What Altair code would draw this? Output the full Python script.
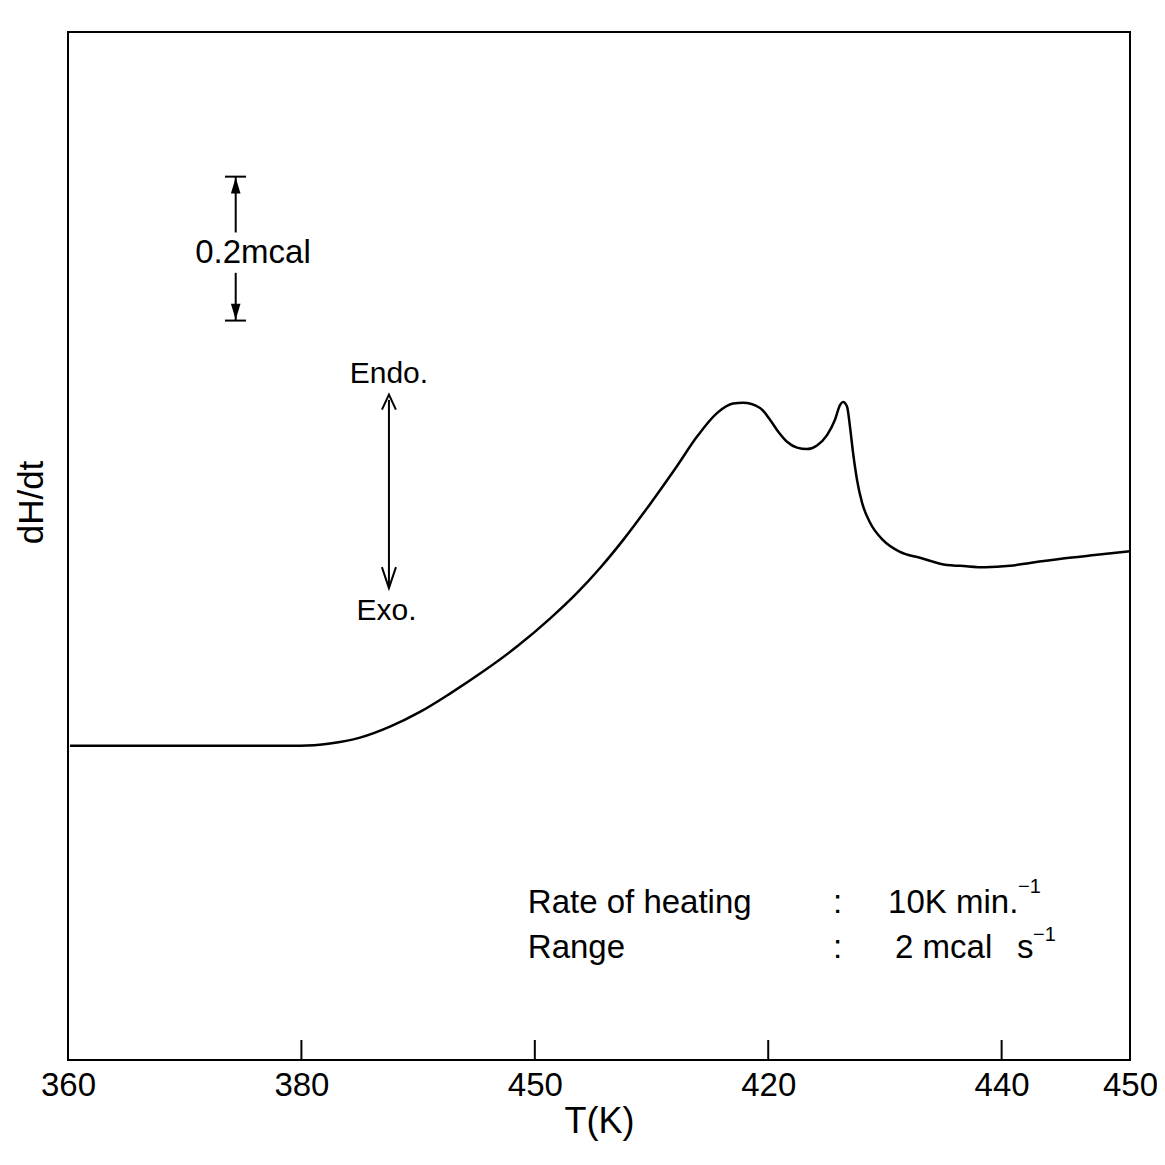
import altair as alt
import pandas as pd

# ---------------- data ----------------
curve_T = [360.17, 371.31, 379.88, 382.45, 385.02, 387.59, 390.16, 392.73, 395.56,
           398.47, 401.30, 403.62, 405.59, 407.56, 409.87, 412.19, 413.90, 415.61,
           416.98, 417.84, 419.30, 420.15, 420.75, 421.61, 422.47, 423.32, 424.18,
           425.04, 425.72, 426.15, 426.41, 426.75, 427.01, 427.27, 427.61, 428.04,
           428.72, 429.84, 431.29, 433.00, 435.32, 436.44, 438.58, 440.72, 442.43,
           445.26, 448.17, 451.00]
curve_y = [0.428, 0.428, 0.428, 0.431, 0.439, 0.454, 0.474, 0.499, 0.529,
           0.563, 0.601, 0.636, 0.670, 0.708, 0.757, 0.809, 0.849, 0.881,
           0.894, 0.895, 0.888, 0.872, 0.858, 0.842, 0.834, 0.832, 0.837,
           0.851, 0.872, 0.892, 0.896, 0.890, 0.862, 0.827, 0.790, 0.759,
           0.732, 0.708, 0.692, 0.684, 0.674, 0.673, 0.671, 0.673, 0.677,
           0.683, 0.688, 0.693]

tick_T = [380, 400, 420, 440]
label_T = [360, 380, 400, 420, 440, 451]
label_text = ["360", "380", "450", "420", "440", "450"]

x_domain = [360, 451]
y_domain = [0, 1.4]

# scale bar (0.2 mcal) and Endo/Exo arrow
bar_T = 374.37
bar_seg_y = [1.127, 1.007]
bar_seg_y2 = [1.203, 1.072]
cap_T = [373.45]
cap_T2 = [375.25]
cap_y = [1.203, 1.007]
bar_head_up_y = 1.191
bar_head_down_y = 1.019

endo_T = 387.5
endo_y = 0.643
endo_y2 = 0.899
endo_head_up_y = 0.896
exo_head_down_y = 0.657

# annotation texts
center_text = ["0.2mcal", "Endo.", "Exo."]
center_T = [375.85, 387.5, 387.3]
center_y = [1.086, 0.922, 0.599]
center_size = [33, 30, 30]

left_text = ["Rate of heating", "Range", ":", ":", "10K min.", "2 mcal", "s"]
left_T = [399.4, 399.4, 425.55, 425.55, 430.27, 430.87, 441.32]
left_y = [0.200, 0.139, 0.200, 0.139, 0.200, 0.139, 0.139]

sup_text = ["\u22121", "\u22121"]
sup_T = [441.40, 442.69]
sup_y = [0.2275, 0.162]

FONT = "Liberation Sans"

# ---------------- chart ----------------
xscale = alt.Scale(domain=x_domain, nice=False, zero=False)
yscale = alt.Scale(domain=y_domain, nice=False, zero=False)

label_expr = " : ".join(
    f"datum.value == {v} ? '{t}'" for v, t in zip(label_T, label_text)
) + " : datum.label"

x_axis = alt.Axis(values=label_T, labelExpr=label_expr, title="T(K)",
                  ticks=False, tickSize=0, domain=False, grid=False,
                  labelFlush=False, labelOverlap=False,
                  labelFont=FONT, labelFontSize=33, labelColor="black",
                  labelPadding=9, titleFont=FONT, titleFontSize=36,
                  titleFontWeight="normal", titleColor="black", titlePadding=2)
y_axis = alt.Axis(title="dH/dt", labels=False, ticks=False, tickSize=0,
                  domain=False, grid=False, titleFont=FONT, titleFontSize=35,
                  titleFontWeight="normal", titleColor="black",
                  titleX=-26, titleY=470, titleBaseline="alphabetic",
                  titleAngle=270, titleAlign="center")

X = alt.X("T:Q", scale=xscale, axis=x_axis, title="T(K)")
Y = alt.Y("y:Q", scale=yscale, axis=y_axis, title="dH/dt")

curve = alt.Chart(pd.DataFrame({"T": curve_T, "y": curve_y})).mark_line(
    color="black", strokeWidth=2.5, interpolate="monotone"
).encode(x=X, y=Y)

ticks = alt.Chart(pd.DataFrame({"T": tick_T})).mark_rule(
    color="black", strokeWidth=2
).encode(x=X, y=alt.value(1028), y2=alt.value(1008))

bar_df = pd.DataFrame({"T": [bar_T, bar_T], "y": bar_seg_y, "y2": bar_seg_y2})
bar = alt.Chart(bar_df).mark_rule(color="black", strokeWidth=2).encode(
    x=X, y=Y, y2="y2:Q",
)
caps_df = pd.DataFrame({"T": cap_T * 2, "T2": cap_T2 * 2, "y": cap_y})
caps = alt.Chart(caps_df).mark_rule(color="black", strokeWidth=2).encode(
    x=X, x2="T2:Q", y=Y,
)
head_up = alt.Chart(pd.DataFrame({"T": [bar_T], "y": [bar_head_up_y]})).mark_point(
    shape="M0,-1L0.6,1L-0.6,1Z", filled=True, size=256, color="black", opacity=1
).encode(x=X, y=Y)
head_down = alt.Chart(pd.DataFrame({"T": [bar_T], "y": [bar_head_down_y]})).mark_point(
    shape="M0,1L0.6,-1L-0.6,-1Z", filled=True, size=256, color="black", opacity=1
).encode(x=X, y=Y)

endo_line = alt.Chart(pd.DataFrame({"T": [endo_T], "y": [endo_y], "y2": [endo_y2]})).mark_rule(
    color="black", strokeWidth=2
).encode(x=X, y=Y, y2="y2:Q")
endo_head = alt.Chart(pd.DataFrame({"T": [endo_T], "y": [endo_head_up_y]})).mark_point(
    shape="M-0.93,1L0,-1L0.93,1", filled=False, size=225, color="black",
    strokeWidth=2, opacity=1
).encode(x=X, y=Y)
exo_head = alt.Chart(pd.DataFrame({"T": [endo_T], "y": [exo_head_down_y]})).mark_point(
    shape="M-0.67,-1L0,1L0.67,-1", filled=False, size=441, color="black",
    strokeWidth=2, opacity=1
).encode(x=X, y=Y)

ctext = alt.Chart(pd.DataFrame({"T": center_T, "y": center_y, "text": center_text,
                                "size": center_size})).mark_text(
    font=FONT, color="black", align="center", baseline="alphabetic"
).encode(
    x=X, y=Y, text="text:N",
    size=alt.Size("size:Q", scale=None, legend=None),
)
ltext = alt.Chart(pd.DataFrame({"T": left_T, "y": left_y, "text": left_text})).mark_text(
    font=FONT, color="black", align="left", baseline="alphabetic", fontSize=33
).encode(x=X, y=Y, text="text:N")
stext = alt.Chart(pd.DataFrame({"T": sup_T, "y": sup_y, "text": sup_text})).mark_text(
    font=FONT, color="black", align="left", baseline="alphabetic", fontSize=20
).encode(x=X, y=Y, text="text:N")

chart = alt.layer(
    curve, ticks, bar, caps, head_up, head_down, endo_line, endo_head, exo_head,
    ctext, ltext, stext
).properties(
    width=1062, height=1028,
    autosize=alt.AutoSizeParams(type="none"),
    padding={"left": 60, "top": 24, "right": 27, "bottom": 97},
    background="white",
).configure_view(stroke="black", strokeWidth=2)

chart.save("out.html", embed_options={"renderer": "svg", "actions": False})
